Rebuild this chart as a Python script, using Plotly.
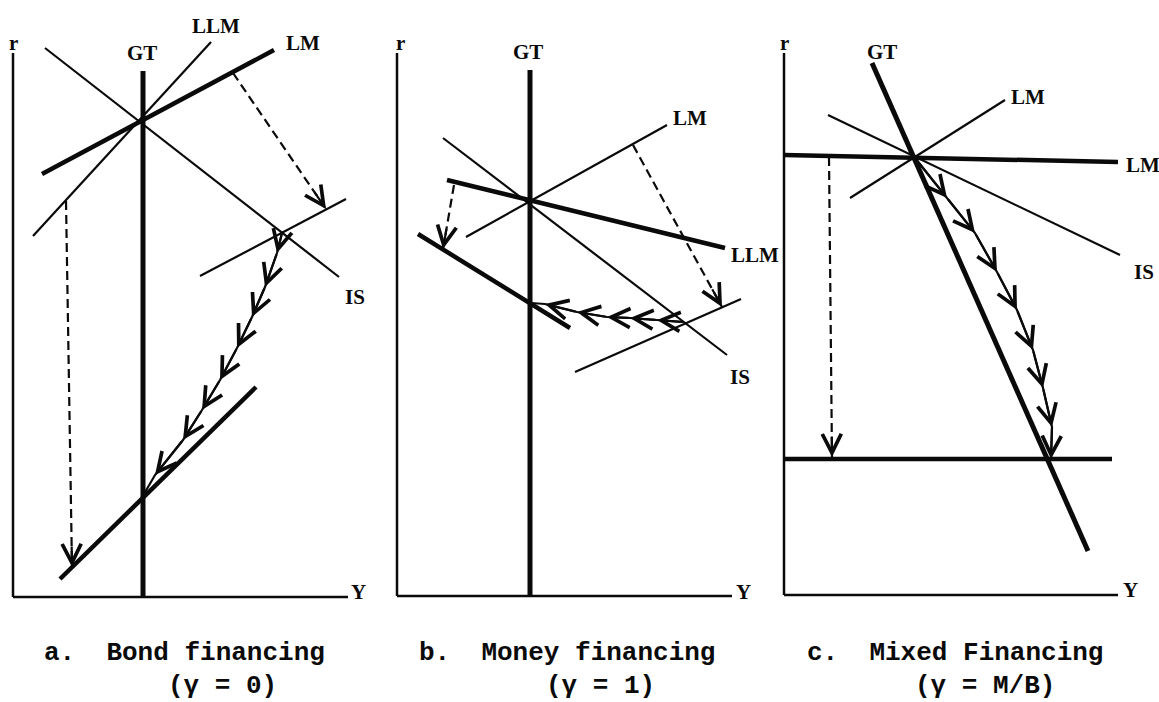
import math
import plotly.graph_objects as go

# ---------------- data (panel-local units: Y to the right, r upward) ----------------
# Panel a : Bond financing
a_axis_r = ([0, 0], [0, 544])
a_axis_Y = ([0, 335], [0, 0])
a_GT = ([130, 130], [526, 0])
a_IS = ([32, 326], [549, 320])
a_LLM = ([20, 198], [361, 555])
a_LM = ([29, 261], [423, 547])
a_LM_shift = ([187, 333], [321, 398])
a_LM_low = ([47, 243], [18, 210])
a_dash1 = ([220, 313], [524, 388])
a_dash2 = ([53, 59], [396, 30])
a_path_x = [269, 264, 252, 239, 224, 207, 189, 170, 142, 131]
a_path_y = [364, 344, 310, 280, 249, 217, 187, 157, 122, 103]
a_heads = [1, 2, 3, 4, 5, 6, 7, 8]
a_labels = [("r", 0, 554), ("Y", 345, 5), ("GT", 129, 544), ("LLM", 203, 571),
            ("LM", 290, 554), ("IS", 342, 300)]

# Panel b : Money financing
b_axis_r = ([0, 0], [0, 543])
b_axis_Y = ([0, 335], [0, 0])
b_GT = ([133, 133], [526, 0])
b_LM = ([69, 270], [359, 471])
b_IS = ([46, 330], [458, 241])
b_LLM = ([50, 328], [416, 348])
b_LLM_low = ([21, 173], [362, 268])
b_LM_shift = ([178, 344], [224, 297])
b_dash1 = ([57, 46], [411, 347])
b_dash2 = ([236, 325], [451, 289])
b_path_x = [286, 260, 233, 210, 180, 148, 134]
b_path_y = [274, 276, 278, 279, 284, 292, 293]
b_heads = [1, 2, 3, 4, 5]
b_labels = [("r", 3, 553), ("Y", 346, 4), ("GT", 131, 544), ("LM", 293, 478),
            ("LLM", 358, 341), ("IS", 343, 219)]

# Panel c : Mixed financing
c_axis_r = ([0, 0], [0, 542])
c_axis_Y = ([0, 334], [0, 0])
c_GT = ([88, 304], [532, 44])
c_LM_h = ([0, 334], [440, 433])
c_LM = ([66, 221], [397, 495])
c_IS = ([44, 336], [480, 340])
c_LM_low = ([0, 328], [136, 136])
c_dash = ([45, 48], [438, 138])
c_path_x = [131, 163, 191, 213, 233, 249, 259, 268, 267]
c_path_y = [437, 397, 362, 323, 285, 245, 207, 168, 136]
c_heads = [1, 2, 3, 4, 5, 6, 7, 8]
c_labels = [("r", 1, 552), ("Y", 346, 5), ("GT", 98, 543), ("LM", 244, 498),
            ("LM", 359, 430), ("IS", 360, 323)]

captions = [
    ("a.  Bond financing", 42, 653), ("(γ = 0)", 166, 686),
    ("b.  Money financing", 417, 653), ("(γ = 1)", 544, 686),
    ("c.  Mixed Financing", 805, 653), ("(γ = M/B)", 913, 686),
]

# ---------------- layout helpers ----------------
W, H = 1159, 702
origins = [(13, 597), (397, 596), (784, 595)]   # page pixel of each panel's axis corner
XR = [-12, 372]
YR = [-5, 577]
INK = "#0a0a0a"
THIN, THICK, AXW = 2.2, 4.5, 2.5
LABEL_FONT = dict(family="Liberation Serif", size=21, color=INK)
CAP_FONT = dict(family="Liberation Mono", size=26, color=INK)

fig = go.Figure()
layout_axes = {}
for i, (x0, y0) in enumerate(origins):
    n = "" if i == 0 else str(i + 1)
    xd = [(x0 + XR[0]) / W, min(1.0, (x0 + XR[1]) / W)]
    yd = [(H - (y0 - YR[0])) / H, (H - (y0 - YR[1])) / H]
    layout_axes["xaxis" + n] = dict(domain=xd, range=XR, visible=False, fixedrange=True,
                                    anchor="y" + n)
    layout_axes["yaxis" + n] = dict(domain=yd, range=YR, visible=False, fixedrange=True,
                                    anchor="x" + n)

annotations = []


def refs(p):
    return ("x", "y") if p == 0 else ("x%d" % (p + 1), "y%d" % (p + 1))


def line(p, seg, width, dash="solid"):
    xa, ya = refs(p)
    fig.add_trace(go.Scatter(x=seg[0], y=seg[1], mode="lines", xaxis=xa, yaxis=ya,
                             line=dict(color=INK, width=width, dash=dash),
                             hoverinfo="skip", showlegend=False))


def head(p, tip, tail, width=THIN):
    xa, ya = refs(p)
    annotations.append(dict(x=tip[0], y=tip[1], ax=tail[0], ay=tail[1], xref=xa, yref=ya,
                            axref=xa, ayref=ya, text="", showarrow=True, arrowhead=5,
                            arrowsize=1.7, arrowwidth=width, arrowcolor=INK,
                            standoff=0, startstandoff=0))


def dashed_arrow(p, seg):
    line(p, seg, THIN, "9px,5px")
    dx, dy = seg[0][1] - seg[0][0], seg[1][1] - seg[1][0]
    L = math.hypot(dx, dy)
    tail = (seg[0][1] - dx / L * 22, seg[1][1] - dy / L * 22)
    head(p, (seg[0][1], seg[1][1]), tail)


def path(p, xs, ys, heads):
    line(p, (xs, ys), THIN)
    for k in heads:
        head(p, (xs[k], ys[k]), (xs[k - 1], ys[k - 1]))


def labels(p, items):
    xa, ya = refs(p)
    for t, x, y in items:
        annotations.append(dict(x=x, y=y, xref=xa, yref=ya, text="<b>%s</b>" % t,
                                showarrow=False, font=LABEL_FONT,
                                xanchor="center", yanchor="middle"))


# Panel a
line(0, a_axis_r, AXW); line(0, a_axis_Y, AXW)
line(0, a_GT, 5)
line(0, a_IS, THIN)
line(0, a_LLM, THIN)
line(0, a_LM, THICK)
line(0, a_LM_shift, THIN)
line(0, a_LM_low, THICK)
dashed_arrow(0, a_dash1)
dashed_arrow(0, a_dash2)
path(0, a_path_x, a_path_y, a_heads)
labels(0, a_labels)

# Panel b
line(1, b_axis_r, AXW); line(1, b_axis_Y, AXW)
line(1, b_GT, 5)
line(1, b_LM, THIN)
line(1, b_IS, THIN)
line(1, b_LLM, THICK)
line(1, b_LLM_low, THICK)
line(1, b_LM_shift, THIN)
dashed_arrow(1, b_dash1)
dashed_arrow(1, b_dash2)
path(1, b_path_x, b_path_y, b_heads)
labels(1, b_labels)

# Panel c
line(2, c_axis_r, AXW); line(2, c_axis_Y, AXW)
line(2, c_GT, 5)
line(2, c_LM_h, THICK)
line(2, c_LM, THIN)
line(2, c_IS, THIN)
line(2, c_LM_low, THICK)
dashed_arrow(2, c_dash)
path(2, c_path_x, c_path_y, c_heads)
labels(2, c_labels)

for t, px, py in captions:
    annotations.append(dict(x=px / W, y=(H - py) / H, xref="paper", yref="paper",
                            text="<b>%s</b>" % t, showarrow=False, font=CAP_FONT,
                            xanchor="left", yanchor="middle"))

fig.update_layout(width=W, height=H, margin=dict(l=0, r=0, t=0, b=0),
                  paper_bgcolor="white", plot_bgcolor="rgba(0,0,0,0)", showlegend=False,
                  annotations=annotations, **layout_axes)

fig.write_html("out.html", config={"displayModeBar": False},
               post_script="document.body.style.margin='0';document.body.style.overflow='hidden';")
